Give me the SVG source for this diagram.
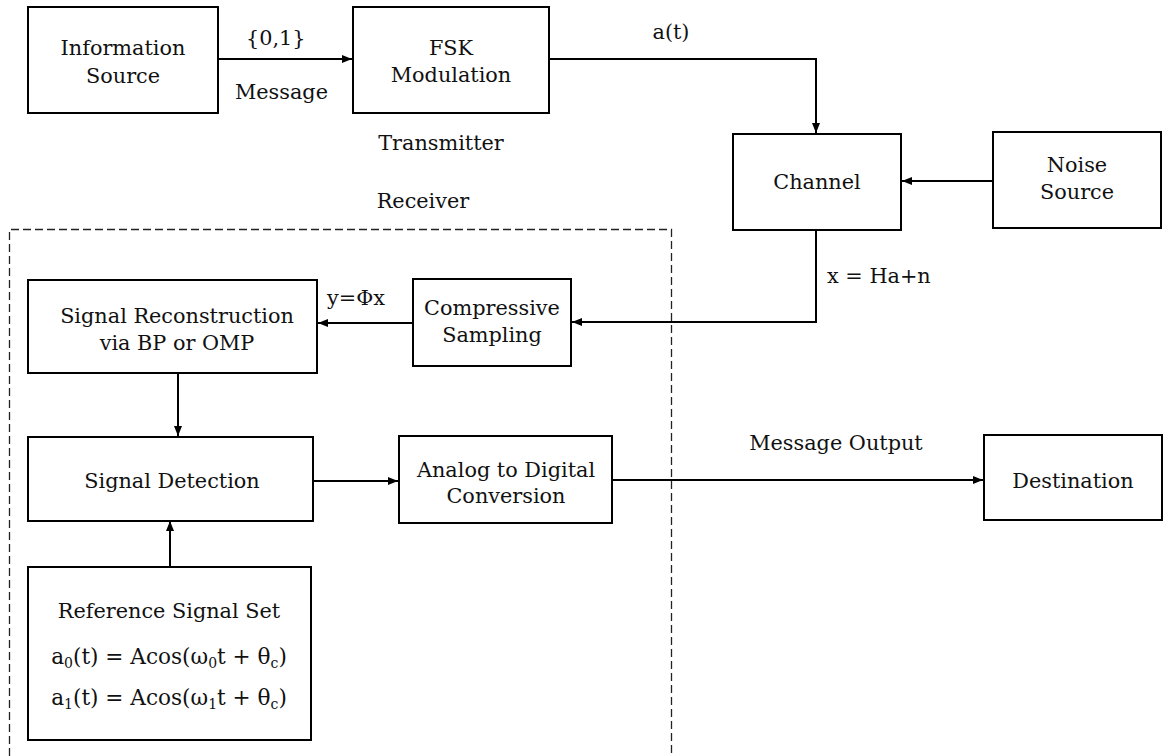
<svg xmlns="http://www.w3.org/2000/svg" width="1167" height="756" viewBox="0 0 1167 756">
<style>
.box{fill:#fff;stroke:#000;stroke-width:2}
.t{font-family:"DejaVu Serif","Liberation Serif",serif;font-size:20.8px;fill:#111;text-anchor:middle}
.l{font-family:"DejaVu Serif","Liberation Serif",serif;font-size:20.8px;fill:#111}
.f{font-family:"DejaVu Serif","Liberation Serif",serif;font-size:21.6px;fill:#111;text-anchor:middle}
.c{fill:none;stroke:#000;stroke-width:2}
.sub{font-size:14px}
</style>
<defs>
<marker id="ah" markerUnits="userSpaceOnUse" markerWidth="10" markerHeight="8" refX="10" refY="4" orient="auto">
<path d="M0,0 L10,4 L0,8 z" fill="#000"/>
</marker>
</defs>
<rect width="1167" height="756" fill="#fff"/>
<path d="M9.5,756 V229.5 H671.5 V756" fill="none" stroke="#222" stroke-width="1.3" stroke-dasharray="8,4"/>
<g id="connectors">
<path class="c" d="M218,59 H352" marker-end="url(#ah)"/>
<path class="c" d="M549,59 H816 V133" marker-end="url(#ah)"/>
<path class="c" d="M993,181 H902" marker-end="url(#ah)"/>
<path class="c" d="M816,230 V322 H572" marker-end="url(#ah)"/>
<path class="c" d="M413,323 H318" marker-end="url(#ah)"/>
<path class="c" d="M178,373 V436" marker-end="url(#ah)"/>
<path class="c" d="M313,481 H398" marker-end="url(#ah)"/>
<path class="c" d="M612,480 H983" marker-end="url(#ah)"/>
<path class="c" d="M170,567 V521" marker-end="url(#ah)"/>
</g>
<g id="labels">
<text class="l" x="246" y="45">{0,1}</text>
<text class="l" x="235" y="99">Message</text>
<text class="t" x="441" y="150">Transmitter</text>
<text class="t" x="423" y="208">Receiver</text>
<text class="t" x="671" y="39">a(t)</text>
<text class="l" x="827" y="283">x = Ha+n</text>
<text class="l" x="327" y="305">y=Φx</text>
<text class="t" x="836" y="450">Message Output</text>
</g>
<g id="info-source"><rect class="box" x="28" y="7" width="190" height="106"/><text class="t" x="123" y="55">Information</text><text class="t" x="123" y="83">Source</text></g>
<g id="fsk"><rect class="box" x="353" y="7" width="196" height="106"/><text class="t" x="451" y="55">FSK</text><text class="t" x="451" y="82">Modulation</text></g>
<g id="channel"><rect class="box" x="733" y="134" width="168" height="96"/><text class="t" x="817" y="189">Channel</text></g>
<g id="noise"><rect class="box" x="993" y="132" width="168" height="96"/><text class="t" x="1077" y="172">Noise</text><text class="t" x="1077" y="199">Source</text></g>
<g id="compressive"><rect class="box" x="413" y="279" width="158" height="87"/><text class="t" x="492" y="315">Compressive</text><text class="t" x="492" y="342">Sampling</text></g>
<g id="reconstruction"><rect class="box" x="28" y="280" width="289" height="93"/><text class="t" x="177" y="323">Signal Reconstruction</text><text class="t" x="177" y="350">via BP or OMP</text></g>
<g id="detection"><rect class="box" x="28" y="437" width="285" height="84"/><text class="t" x="172" y="488">Signal Detection</text></g>
<g id="adc"><rect class="box" x="399" y="436" width="213" height="87"/><text class="t" x="506" y="477">Analog to Digital</text><text class="t" x="506" y="503">Conversion</text></g>
<g id="destination"><rect class="box" x="984" y="435" width="178" height="85"/><text class="t" x="1073" y="488">Destination</text></g>
<g id="reference"><rect class="box" x="28" y="567" width="283" height="173"/>
<text class="t" x="169" y="618">Reference Signal Set</text>
<text class="f" x="169" y="664">a<tspan class="sub" dy="4">0</tspan><tspan dy="-4">(t) = Acos(ω</tspan><tspan class="sub" dy="4">0</tspan><tspan dy="-4">t + θ</tspan><tspan class="sub" dy="4">c</tspan><tspan dy="-4">)</tspan></text>
<text class="f" x="169" y="705">a<tspan class="sub" dy="4">1</tspan><tspan dy="-4">(t) = Acos(ω</tspan><tspan class="sub" dy="4">1</tspan><tspan dy="-4">t + θ</tspan><tspan class="sub" dy="4">c</tspan><tspan dy="-4">)</tspan></text>
</g>
</svg>
